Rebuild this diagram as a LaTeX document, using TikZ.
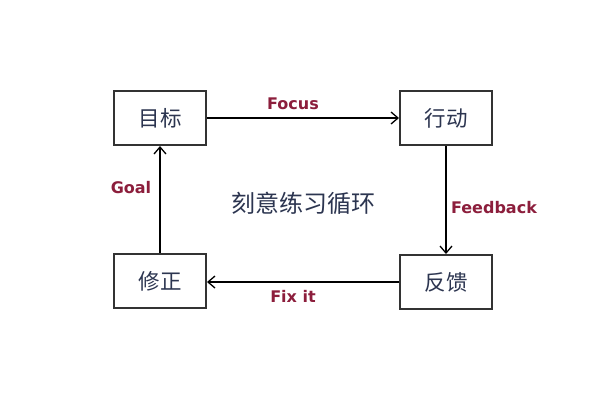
\documentclass[tikz,border=0pt]{standalone}
\usepackage{fontspec}
\setmainfont{DejaVu Sans}
\newfontfamily\cjk{Noto Sans CJK SC}
\usetikzlibrary{arrows.meta}
\definecolor{lblred}{HTML}{8C1E3C}
\definecolor{boxtxt}{HTML}{2C3550}
\definecolor{boxline}{HTML}{333333}
\begin{document}
\begin{tikzpicture}[x=1pt,y=-1pt,
  box/.style={draw=boxline,line width=2pt,minimum width=92pt,minimum height=54pt,inner sep=0pt,
    font=\cjk\fontsize{21.5}{24}\selectfont,text=boxtxt},
  lbl/.style={font=\bfseries\fontsize{16}{18}\selectfont,text=lblred},
  conn/.style={line width=1.3pt,draw=black,-{Straight Barb[length=7pt,width=12pt,line width=1.3pt]}}]
\useasboundingbox (0,0) rectangle (600,400);
\fill[white] (0,0) rectangle (600,400);
\node[box] (goal) at (160,118) {目标};
\node[box] (act) at (446,118) {行动};
\node[box] (fix) at (160,281) {修正};
\node[box] (fb) at (446,282) {反馈};
\draw[conn] (goal) -- (act);
\draw[conn] (act) -- (fb);
\draw[conn] (fb.west) -- (fix.east |- fb.west);
\draw[conn] (fix) -- (goal);
\node[lbl] (lfocus) at (293,104) {Focus};
\node[lbl] (lfb) at (494,208) {Feedback};
\node[lbl] (lfix) at (293,296) {Fix it};
\node[lbl] (lgoal) at (131,188) {Goal};
\node[font=\cjk\fontsize{24}{27}\selectfont,text=boxtxt] (title) at (303,203) {刻意练习循环};
\end{tikzpicture}
\end{document}
